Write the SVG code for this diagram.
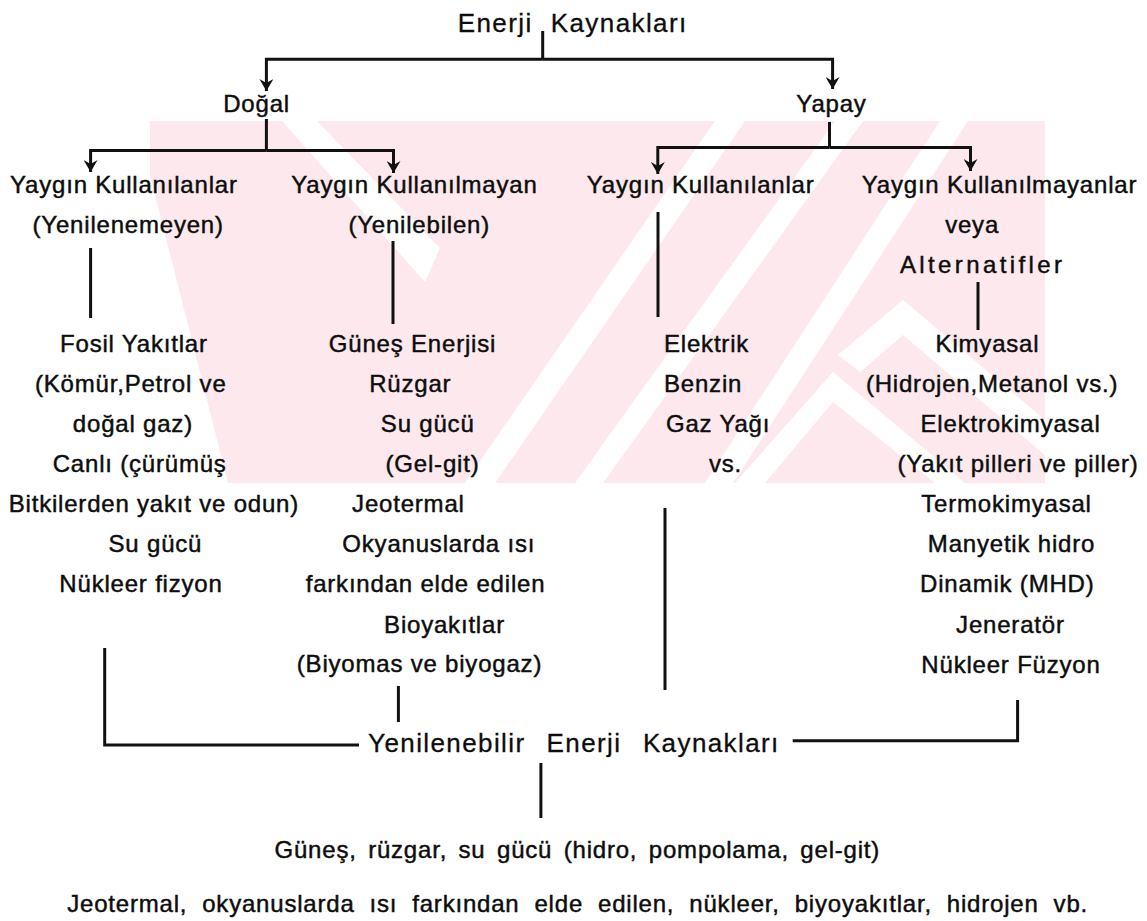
<svg xmlns="http://www.w3.org/2000/svg" width="1147" height="921" viewBox="0 0 1147 921">
<style>
.t{font-family:"Liberation Sans",Arial,Helvetica,sans-serif;font-size:24px;letter-spacing:0.8px;fill:#0d0d0d;stroke:#0d0d0d;stroke-width:0.45px;text-anchor:middle}
.s{text-anchor:start}
.h{font-size:26px;letter-spacing:1.4px;stroke-width:0.3px}
.c{fill:none;stroke:#111;stroke-width:3;stroke-linecap:butt;stroke-linejoin:miter}
</style>
<defs>
<marker id="ah" markerUnits="userSpaceOnUse" markerWidth="14" markerHeight="14" viewBox="0 0 13 14" refX="12" refY="7" orient="auto">
<path d="M0,0 L12,7 L0,14 L4,7 Z" fill="#111"/>
</marker>
<clipPath id="wmclip"><rect x="150" y="121" width="895" height="362"/></clipPath>
</defs>
<rect width="1147" height="921" fill="#fff"/>
<g id="watermark" clip-path="url(#wmclip)">
<rect x="150" y="121" width="895" height="362" fill="#fde9ed"/>
<g fill="#fff">
<polygon points="150,175 228,483 150,483"/>
<polygon points="282,121 317,121 440,248 425,282"/>
<polygon points="465,483 495,483 745,121 715,121"/>
<polygon points="575,483 603,483 863,121 835,121"/>
<polygon points="705,483 733,483 968,121 940,121"/>
<polygon points="833,372 965,483 935,483 833,402 765,483 735,483"/>
<polygon points="903,300 1045,420 1045,455 903,335 860,372 838,355"/>
</g>
</g>
<g id="connectors">
<path class="c" d="M542.7,31 V59.3"/>
<path class="c" d="M542.7,59.3 H266.4 V91" marker-end="url(#ah)"/>
<path class="c" d="M542.7,59.3 H832.6 V89" marker-end="url(#ah)"/>
<path class="c" d="M266.4,119 V150.5"/>
<path class="c" d="M266.4,150.5 H90.6 V172" marker-end="url(#ah)"/>
<path class="c" d="M266.4,150.5 H393.5 V173" marker-end="url(#ah)"/>
<path class="c" d="M829.5,122 V147.5"/>
<path class="c" d="M829.5,147.5 H657.8 V174" marker-end="url(#ah)"/>
<path class="c" d="M829.5,147.5 H970.5 V171" marker-end="url(#ah)"/>
<path class="c" d="M90.6,248 V318"/>
<path class="c" d="M393,241 V324"/>
<path class="c" d="M658,212 V317"/>
<path class="c" d="M978,282 V330"/>
<path class="c" d="M665,508 V690"/>
<path class="c" d="M398.4,686 V722"/>
<path class="c" d="M104.7,648 V745 H359"/>
<path class="c" d="M792.7,740.7 H1017.6 V700"/>
<path class="c" d="M540.9,763 V818"/>
</g>
<g id="n-root"><text class="t h" x="495.2" y="32">Enerji</text><text class="t h" x="619.2" y="32">Kaynakları</text></g>
<g id="n-dogal"><text class="t" x="256.6" y="112">Doğal</text></g>
<g id="n-yapay"><text class="t" x="831.5" y="112">Yapay</text></g>
<g id="n-dk"><text class="t" x="123.9" y="193">Yaygın Kullanılanlar</text><text class="t" x="128.2" y="233">(Yenilenemeyen)</text></g>
<g id="n-dn"><text class="t" x="414.4" y="193">Yaygın Kullanılmayan</text><text class="t" x="419.2" y="233">(Yenilebilen)</text></g>
<g id="n-yk"><text class="t" x="700.7" y="193">Yaygın Kullanılanlar</text></g>
<g id="n-yn"><text class="t" x="999.5" y="193">Yaygın Kullanılmayanlar</text><text class="t" x="972.1" y="233">veya</text><text class="t" x="982.7" y="273" style="letter-spacing:3.4px">Alternatifler</text></g>
<g id="n-fosil">
<text class="t" x="133.9" y="352">Fosil Yakıtlar</text>
<text class="t" x="130.8" y="392">(Kömür,Petrol ve</text>
<text class="t" x="132.9" y="432">doğal gaz)</text>
<text class="t" x="139.7" y="472">Canlı (çürümüş</text>
<text class="t" x="153.9" y="512">Bitkilerden yakıt ve odun)</text>
<text class="t" x="155.4" y="552">Su gücü</text>
<text class="t" x="141" y="592">Nükleer fizyon</text>
</g>
<g id="n-gunes">
<text class="t" x="412.5" y="352">Güneş Enerjisi</text>
<text class="t" x="410.3" y="392">Rüzgar</text>
<text class="t" x="427.7" y="432">Su gücü</text>
<text class="t" x="432.5" y="472">(Gel-git)</text>
<text class="t" x="408.4" y="512">Jeotermal</text>
<text class="t" x="438.8" y="552">Okyanuslarda ısı</text>
<text class="t" x="425.5" y="592">farkından elde edilen</text>
<text class="t" x="444.5" y="633">Bioyakıtlar</text>
<text class="t" x="419.5" y="672">(Biyomas ve biyogaz)</text>
</g>
<g id="n-elektrik">
<text class="t s" x="664" y="352">Elektrik</text>
<text class="t s" x="664" y="392">Benzin</text>
<text class="t s" x="666" y="432">Gaz Yağı</text>
<text class="t" x="725.5" y="472">vs.</text>
</g>
<g id="n-kimyasal">
<text class="t" x="987.5" y="352">Kimyasal</text>
<text class="t" x="992.1" y="392">(Hidrojen,Metanol vs.)</text>
<text class="t" x="1010.6" y="432">Elektrokimyasal</text>
<text class="t" x="1018" y="472">(Yakıt pilleri ve piller)</text>
<text class="t" x="1006.5" y="512">Termokimyasal</text>
<text class="t" x="1011.5" y="552">Manyetik hidro</text>
<text class="t" x="1007.3" y="592">Dinamik (MHD)</text>
<text class="t" x="1010.4" y="633">Jeneratör</text>
<text class="t" x="1011" y="673">Nükleer Füzyon</text>
</g>
<g id="n-yenilenebilir"><text class="t h" x="446.8" y="752">Yenilenebilir</text><text class="t h" x="584" y="752">Enerji</text><text class="t h" x="711.3" y="752">Kaynakları</text></g>
<g id="n-liste">
<text class="t" x="577.3" y="858" style="word-spacing:4px">Güneş, rüzgar, su gücü (hidro, pompolama, gel-git)</text>
<text class="t" x="577.6" y="912" style="word-spacing:7.5px">Jeotermal, okyanuslarda ısı farkından elde edilen, nükleer, biyoyakıtlar, hidrojen vb.</text>
</g>
</svg>
